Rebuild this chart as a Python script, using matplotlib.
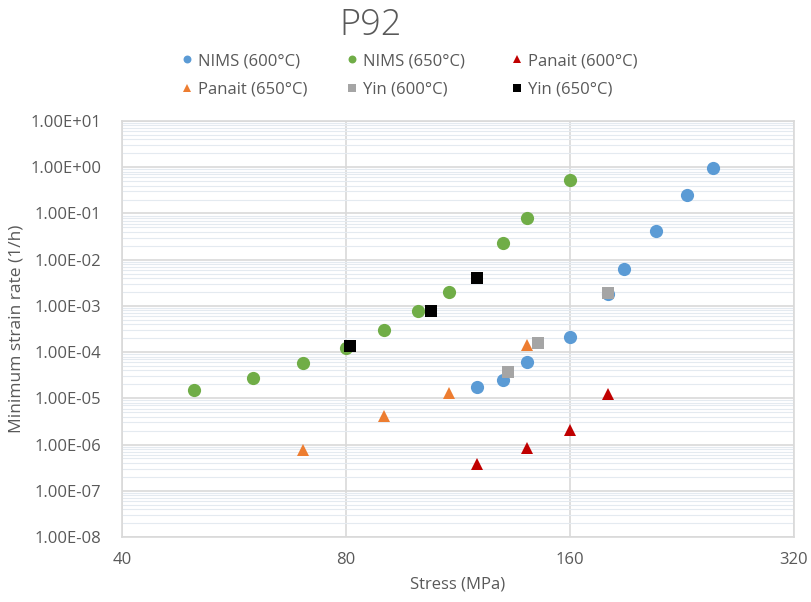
import numpy as np
import matplotlib
matplotlib.use('Agg')
import matplotlib.pyplot as plt
from matplotlib.ticker import FixedLocator, FuncFormatter, LogLocator, NullFormatter

plt.rcParams['font.family'] = ['Open Sans', 'DejaVu Sans']

# stress (MPa) and minimum strain rate (1/h)
nims600_x = [120, 130, 140, 160, 180, 189, 209, 230, 249]
nims600_y = [1.75e-5, 2.5e-5, 6.0e-5, 2.1e-4, 1.8e-3, 6.2e-3, 4.2e-2, 0.25, 0.95]

nims650_x = [50, 60, 70, 80, 90, 100, 110, 130, 140, 160]
nims650_y = [1.5e-5, 2.7e-5, 5.8e-5, 1.22e-4, 3.0e-4, 7.7e-4, 2.0e-3, 2.3e-2, 8.0e-2, 0.53]

panait600_x = [120, 140, 160, 180]
panait600_y = [3.8e-7, 8.4e-7, 2.05e-6, 1.25e-5]

panait650_x = [70, 90, 110, 140]
panait650_y = [7.6e-7, 4.1e-6, 1.3e-5, 1.42e-4]

yin600_x = [132, 145, 180]
yin600_y = [3.7e-5, 1.57e-4, 1.9e-3]

yin650_x = [81, 104, 120]
yin650_y = [1.35e-4, 7.7e-4, 4.0e-3]

x_ticks = [40, 80, 160, 320]

fig = plt.figure(figsize=(8.11, 6.02), dpi=100)
ax = fig.add_axes([0.1504, 0.108, 0.8286, 0.691])

text_col = '#595959'
ms = 9.5
h1, = ax.plot(nims600_x, nims600_y, 'o', color='#5B9BD5', ms=ms, mew=0, label='NIMS (600\u00b0C)', zorder=3)
h2, = ax.plot(nims650_x, nims650_y, 'o', color='#70AD47', ms=ms, mew=0, label='NIMS (650\u00b0C)', zorder=3)
h3, = ax.plot(panait600_x, panait600_y, '^', color='#C00000', ms=ms - 0.5, mew=0, label='Panait (600\u00b0C)', zorder=3)
h4, = ax.plot(panait650_x, panait650_y, '^', color='#ED7D31', ms=ms - 0.5, mew=0, label='Panait (650\u00b0C)', zorder=3)
h5, = ax.plot(yin600_x, yin600_y, 's', color='#A5A5A5', ms=ms - 0.5, mew=0, label='Yin (600\u00b0C)', zorder=4)
h6, = ax.plot(yin650_x, yin650_y, 's', color='#000000', ms=ms - 0.5, mew=0, label='Yin (650\u00b0C)', zorder=4)

ax.set_xscale('log', base=2)
ax.set_yscale('log')
ax.set_xlim(40, 320)
ax.set_ylim(1e-8, 1e1)
ax.xaxis.set_major_locator(FixedLocator(x_ticks))
ax.xaxis.set_major_formatter(FuncFormatter(lambda v, p: f'{v:g}'))
ax.xaxis.set_minor_locator(FixedLocator([]))
ax.yaxis.set_major_locator(LogLocator(base=10, numticks=20))
ax.yaxis.set_minor_locator(LogLocator(base=10, subs=np.arange(2, 10), numticks=20))
ax.yaxis.set_minor_formatter(NullFormatter())
ax.yaxis.set_major_formatter(FuncFormatter(lambda v, p: f'{v:.2E}'))

ax.grid(True, which='major', axis='both', color='#D9D9D9', lw=1.2)
ax.grid(True, which='minor', axis='y', color='#E4EAF0', lw=0.8)
ax.set_axisbelow(True)
for s in ax.spines.values():
    s.set_color('#D9D9D9')
    s.set_linewidth(1.2)
ax.tick_params(which='both', length=0, colors=text_col, labelsize=12)
ax.tick_params(axis='y', pad=15)
ax.tick_params(axis='x', pad=11)

ax.set_xlabel('Stress (MPa)', color=text_col, fontsize=12, labelpad=6)
ax.set_ylabel('Minimum strain rate (1/h)', color=text_col, fontsize=12.5, labelpad=4)

fig.text(0.457, 0.958, 'P92', ha='center', va='center', fontsize=26, color=text_col, fontweight='light')

# legend laid out as three columns of two rows
cols = [[h1, h4], [h2, h5], [h3, h6]]
col_x = [179, 344, 509]
for hs, cx in zip(cols, col_x):
    leg = fig.legend(handles=hs, loc='center left', bbox_to_anchor=(cx / 811, 0.875),
                     frameon=False, fontsize=12, handletextpad=0.15, labelspacing=0.75,
                     markerscale=0.6, handlelength=1.0, borderpad=0, borderaxespad=0)
    for t in leg.get_texts():
        t.set_color(text_col)

fig.savefig('out.png', dpi=100)
